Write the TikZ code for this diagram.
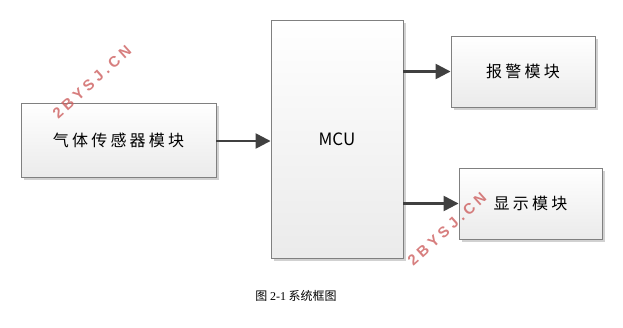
\documentclass[tikz,border=0pt]{standalone}
\usepackage{fontspec}
\newfontfamily\cjk{Noto Sans CJK SC}
\newfontfamily\cjkw[LetterSpace=20]{Noto Sans CJK SC}
\newfontfamily\wmfont[LetterSpace=25]{Liberation Sans}
\newfontfamily\capserif{Liberation Serif}
\usetikzlibrary{arrows.meta,shadows}
\definecolor{boxborder}{RGB}{128,128,128}
\definecolor{arrowcol}{RGB}{64,64,64}
\definecolor{wmcol}{RGB}{205,95,95}
\tikzset{
  block/.style={draw=boxborder, line width=0.9pt, top color=white, bottom color=black!8,
    drop shadow={shadow xshift=2.5pt, shadow yshift=-2.5pt, opacity=0.18, fill=black},
    inner sep=0pt, font=\cjkw\fontsize{16}{18}\selectfont},
  conn/.style={draw=arrowcol, line width=2.4pt, -{Triangle[length=15pt,width=15pt]}},
  wm/.style={text=wmcol, opacity=0.8, rotate=42, inner sep=0pt, font=\wmfont\bfseries\fontsize{15}{16}\selectfont}
}
\begin{document}
\begin{tikzpicture}[x=1pt,y=-1pt]
\useasboundingbox (0,0) rectangle (623,327);
\node[block, minimum width=195pt, minimum height=74pt] (gas) at (118.5,140) {气体传感器模块};
\node[block, minimum width=132pt, minimum height=238pt] (mcu) at (337,139) {};
\node[font=\cjk\fontsize{17}{19}\selectfont] (mcutext) at (337,139) {MCU};
\node[block, minimum width=144pt, minimum height=71pt] (alarm) at (523,71.5) {报警模块};
\node[block, minimum width=143pt, minimum height=71pt] (disp) at (530.5,203.5) {显示模块};
\draw[conn] (gas.east |- 0,141) -- (mcu.west |- 0,141);
\draw[conn] (mcu.east |- alarm.west) -- (alarm.west);
\draw[conn] (mcu.east |- disp.west) -- (disp.west);
\node[wm] (wm1) at (92,82) {2BYSJ.CN};
\node[wm] (wm2) at (447,229) {2BYSJ.CN};
\node[font=\cjk\fontsize{12}{14}\selectfont] (cap) at (296,296) {图 {\capserif 2-1} 系统框图};
\end{tikzpicture}
\end{document}
